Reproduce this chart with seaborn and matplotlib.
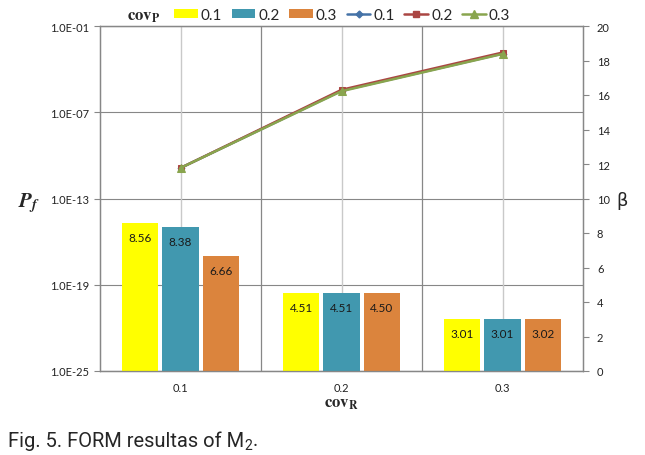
import numpy as np
import pandas as pd
import seaborn as sns
import matplotlib
matplotlib.use("Agg")
import matplotlib.pyplot as plt
from matplotlib.patches import Patch
from matplotlib.lines import Line2D

# ---------------- data ----------------
cov_R = ["0.1", "0.2", "0.3"]
cov_P = ["0.1", "0.2", "0.3"]

# failure probability (bars, left log axis)
pf_covP_01 = [2.0e-15, 2.8e-20, 4.3e-22]
pf_covP_02 = [1.1e-15, 2.8e-20, 4.4e-22]
pf_covP_03 = [1.0e-17, 2.8e-20, 4.4e-22]

# labels printed in the bars
bar_text_covP_01 = [8.56, 4.51, 3.01]
bar_text_covP_02 = [8.38, 4.51, 3.01]
bar_text_covP_03 = [6.66, 4.50, 3.02]

# reliability index beta (lines, right axis)
beta_covP_01 = [11.77, 16.25, 18.40]
beta_covP_02 = [11.77, 16.30, 18.46]
beta_covP_03 = [11.77, 16.22, 18.38]

left_ticks = [1e-25, 1e-19, 1e-13, 1e-7, 1e-1]
left_ticklabels = ["1.0E-25", "1.0E-19", "1.0E-13", "1.0E-07", "1.0E-01"]
right_ticks = [0, 2, 4, 6, 8, 10, 12, 14, 16, 18, 20]

bar_colors = ["#FFFF00", "#4198AF", "#DB843D"]
line_colors = ["#4572A7", "#AA4643", "#89A54E"]
line_markers = ["D", "s", "^"]
marker_sizes = [3.5, 5, 5.5]

# ---------------- frames ----------------
bars_df = pd.DataFrame({
    "cov_R": cov_R * 3,
    "cov_P": np.repeat(cov_P, 3),
    "Pf": pf_covP_01 + pf_covP_02 + pf_covP_03,
})
bar_texts = [bar_text_covP_01, bar_text_covP_02, bar_text_covP_03]

sns.set_theme(style="white")
plt.rcParams["font.family"] = ["Lato", "DejaVu Sans"]
plt.rcParams["mathtext.fontset"] = "stix"

fig = plt.figure(figsize=(6.45, 4.56), dpi=100)
ax = fig.add_axes([100 / 645, 1 - 372 / 456, 483 / 645, 345 / 456])
ax.set_yscale("log")

grid_dark = "#878787"
grid_light = "#C9C9C9"

sns.barplot(data=bars_df, x="cov_R", y="Pf", hue="cov_P", palette=bar_colors,
            saturation=1, width=0.75, gap=0.1, errorbar=None, legend=False,
            ax=ax, linewidth=0, zorder=3)

ax.set_ylim(1e-25, 1e-1)
ax.set_xlim(-0.5, 2.5)
ax.set_yticks(left_ticks)
ax.set_yticklabels(left_ticklabels)
ax.yaxis.set_minor_locator(matplotlib.ticker.NullLocator())
ax.tick_params(axis="y", which="major", length=4, width=0.8, color=grid_dark,
               labelsize=8, labelcolor="#222222", pad=4, left=True)
ax.tick_params(axis="x", length=0, labelsize=8, labelcolor="#222222", pad=8)
ax.grid(axis="y", color=grid_dark, lw=0.8, zorder=0)
ax.set_axisbelow(True)
for xc in [0, 1, 2]:
    ax.axvline(xc, color=grid_light, lw=1.0, zorder=1)
for xb in [0.5, 1.5]:
    ax.axvline(xb, color=grid_dark, lw=0.9, zorder=1)
for s in ax.spines.values():
    s.set_color(grid_dark)
    s.set_linewidth(0.9)
ax.set_xlabel("")
ax.set_ylabel("")

# bar value labels
for cont, texts in zip(ax.containers, bar_texts):
    for bar, t in zip(cont, texts):
        top = bar.get_y() + bar.get_height()
        ax.annotate(f"{t:.2f}", (bar.get_x() + bar.get_width() / 2, top),
                    xytext=(0, -10.5), textcoords="offset points",
                    ha="center", va="center", fontsize=8.5, color="#1a1a1a",
                    zorder=5)

# right axis with beta lines
ax2 = ax.twinx()
lines_df = pd.DataFrame({
    "x": [0, 1, 2] * 3,
    "cov_P": np.repeat(cov_P, 3),
    "beta": beta_covP_01 + beta_covP_02 + beta_covP_03,
})
for i, p in enumerate(cov_P):
    sub = lines_df[lines_df["cov_P"] == p]
    sns.lineplot(data=sub, x="x", y="beta", color=line_colors[i],
                 marker=line_markers[i], markersize=marker_sizes[i],
                 markeredgecolor=line_colors[i], lw=1.8, ax=ax2,
                 legend=False, errorbar=None)
ax2.set_ylim(0, 20)
ax2.set_xlim(-0.5, 2.5)
ax2.set_yticks(right_ticks)
ax2.set_yticklabels([str(v) for v in right_ticks])
ax2.tick_params(axis="y", length=4, width=0.8, color=grid_dark, labelsize=8,
                labelcolor="#222222", pad=6, right=True)
ax2.set_ylabel("")
ax2.set_xlabel("")
ax2.grid(False)
for s in ax2.spines.values():
    s.set_color(grid_dark)
    s.set_linewidth(0.9)

# axis titles
fig.text(29 / 645, 1 - 203 / 456, r"$\mathbfit{P}_{\mathbfit{f}}$", fontsize=15,
         ha="center", va="center")
fig.text(622 / 645, 1 - 201 / 456, "β", fontsize=13, ha="center", va="center",
         family=["DejaVu Sans"])
fig.text(341 / 645, 1 - 404 / 456, r"$\mathbf{cov}_{\mathbf{R}}$", fontsize=12,
         ha="center", va="center")

# legend
fig.text(144 / 645, 1 - 17 / 456, r"$\mathbf{cov}_{\mathbf{P}}$", fontsize=12,
         ha="center", va="center")
handles = [Patch(facecolor=c, edgecolor="none") for c in bar_colors]
handles += [Line2D([0], [0], color=c, lw=1.8, marker=m, markersize=ms)
            for c, m, ms in zip(line_colors, line_markers, marker_sizes)]
labels = cov_P + cov_P
fig.legend(handles, labels, ncol=6, loc="center left",
           bbox_to_anchor=(174 / 645, 1 - 16 / 456), frameon=False,
           fontsize=11, handlelength=1.55, handleheight=0.55,
           handletextpad=0.2, columnspacing=0.62, borderaxespad=0,
           borderpad=0)

# caption
cap_family = ["Roboto", "DejaVu Sans"]
cap = fig.text(8 / 645, 1 - 441 / 456, "Fig. 5. FORM resultas of M",
               fontsize=14.5, ha="left", va="center", family=cap_family)
fig.canvas.draw()
bb = cap.get_window_extent()
sub2 = fig.text(bb.x1 / 645 + 0.5 / 645, 1 - 446 / 456, "2", fontsize=10,
                ha="left", va="center", family=cap_family)
fig.canvas.draw()
bb2 = sub2.get_window_extent()
fig.text(bb2.x1 / 645, 1 - 441 / 456, ".", fontsize=14.5, ha="left",
         va="center", family=cap_family)

fig.savefig("out.png", dpi=100)
